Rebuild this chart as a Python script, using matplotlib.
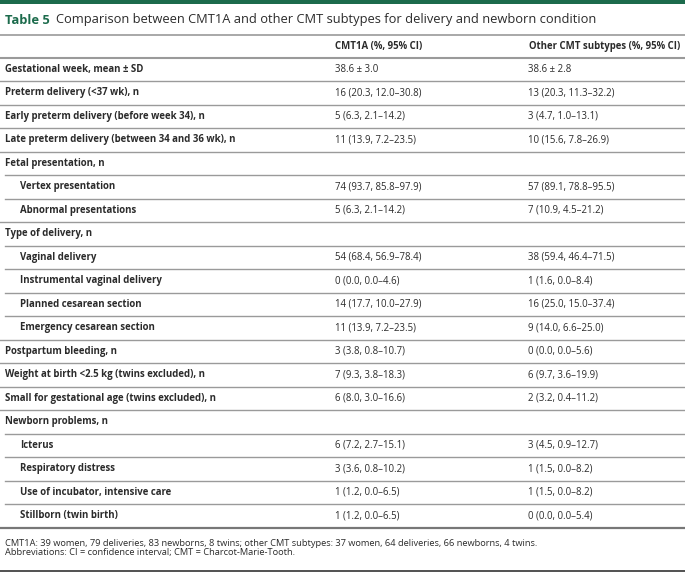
import matplotlib.pyplot as plt

plt.rcParams['font.family'] = ['Open Sans', 'DejaVu Sans']

title_num = 'Table 5'
title_text = 'Comparison between CMT1A and other CMT subtypes for delivery and newborn condition'
col_headers = ['CMT1A (%, 95% CI)', 'Other CMT subtypes (%, 95% CI)']

row_labels = [
    'Gestational week, mean ± SD',
    'Preterm delivery (<37 wk), n',
    'Early preterm delivery (before week 34), n',
    'Late preterm delivery (between 34 and 36 wk), n',
    'Fetal presentation, n',
    'Vertex presentation',
    'Abnormal presentations',
    'Type of delivery, n',
    'Vaginal delivery',
    'Instrumental vaginal delivery',
    'Planned cesarean section',
    'Emergency cesarean section',
    'Postpartum bleeding, n',
    'Weight at birth <2.5 kg (twins excluded), n',
    'Small for gestational age (twins excluded), n',
    'Newborn problems, n',
    'Icterus',
    'Respiratory distress',
    'Use of incubator, intensive care',
    'Stillborn (twin birth)',
]
indented = [False, False, False, False, False, True, True, False, True, True,
            True, True, False, False, False, False, True, True, True, True]
cmt1a = [
    '38.6 ± 3.0', '16 (20.3, 12.0–30.8)', '5 (6.3, 2.1–14.2)', '11 (13.9, 7.2–23.5)',
    '', '74 (93.7, 85.8–97.9)', '5 (6.3, 2.1–14.2)', '',
    '54 (68.4, 56.9–78.4)', '0 (0.0, 0.0–4.6)', '14 (17.7, 10.0–27.9)', '11 (13.9, 7.2–23.5)',
    '3 (3.8, 0.8–10.7)', '7 (9.3, 3.8–18.3)', '6 (8.0, 3.0–16.6)', '',
    '6 (7.2, 2.7–15.1)', '3 (3.6, 0.8–10.2)', '1 (1.2, 0.0–6.5)', '1 (1.2, 0.0–6.5)',
]
other = [
    '38.6 ± 2.8', '13 (20.3, 11.3–32.2)', '3 (4.7, 1.0–13.1)', '10 (15.6, 7.8–26.9)',
    '', '57 (89.1, 78.8–95.5)', '7 (10.9, 4.5–21.2)', '',
    '38 (59.4, 46.4–71.5)', '1 (1.6, 0.0–8.4)', '16 (25.0, 15.0–37.4)', '9 (14.0, 6.6–25.0)',
    '0 (0.0, 0.0–5.6)', '6 (9.7, 3.6–19.9)', '2 (3.2, 0.4–11.2)', '',
    '3 (4.5, 0.9–12.7)', '1 (1.5, 0.0–8.2)', '1 (1.5, 0.0–8.2)', '0 (0.0, 0.0–5.4)',
]
footnotes = [
    'CMT1A: 39 women, 79 deliveries, 83 newborns, 8 twins; other CMT subtypes: 37 women, 64 deliveries, 66 newborns, 4 twins.',
    'Abbreviations: CI = confidence interval; CMT = Charcot-Marie-Tooth.',
]

W, H = 685, 578
green = '#1c6b4c'
text_col = '#2b2b2b'
line_col = '#9a9a9a'

fig = plt.figure(figsize=(W / 100, H / 100), dpi=100)
ax = fig.add_axes([0, 0, 1, 1])
ax.set_xlim(0, W)
ax.set_ylim(H, 0)
ax.axis('off')

# top bar and title
ax.axhspan(0, 3.5, color=green, lw=0)
ax.text(5, 20, title_num, fontsize=9.3, fontweight='bold', color=green, va='center')
ax.text(56, 20, title_text, fontsize=9.3, color=text_col, va='center')
ax.axhline(35, color=line_col, lw=1.2)

# header
ax.text(335, 47, col_headers[0], fontsize=6.9, fontweight='bold', color=text_col, va='center')
ax.text(529, 47, col_headers[1], fontsize=6.9, fontweight='bold', color=text_col, va='center')
ax.axhline(57.5, color=line_col, lw=1.5)

top = 57.5
rh = 23.5
for i, lab in enumerate(row_labels):
    yc = top + rh * (i + 0.5)
    x0 = 20 if indented[i] else 5
    ax.text(x0, yc, lab, fontsize=6.9, fontweight='bold', color=text_col, va='center')
    ax.text(335, yc, cmt1a[i], fontsize=6.9, color=text_col, va='center')
    ax.text(528, yc, other[i], fontsize=6.9, color=text_col, va='center')
    if i < len(row_labels) - 1:
        x_start = 5 if indented[i + 1] else 0
        ax.plot([x_start, W], [top + rh * (i + 1)] * 2, color=line_col, lw=1.0)

ax.axhline(top + rh * len(row_labels), color='#777777', lw=1.6)

ax.text(5, 543, footnotes[0], fontsize=6.7, color=text_col, va='center')
ax.text(5, 553, footnotes[1], fontsize=6.7, color=text_col, va='center')
ax.axhline(571, color='#333333', lw=1.2)

fig.savefig('out.png', dpi=100)
